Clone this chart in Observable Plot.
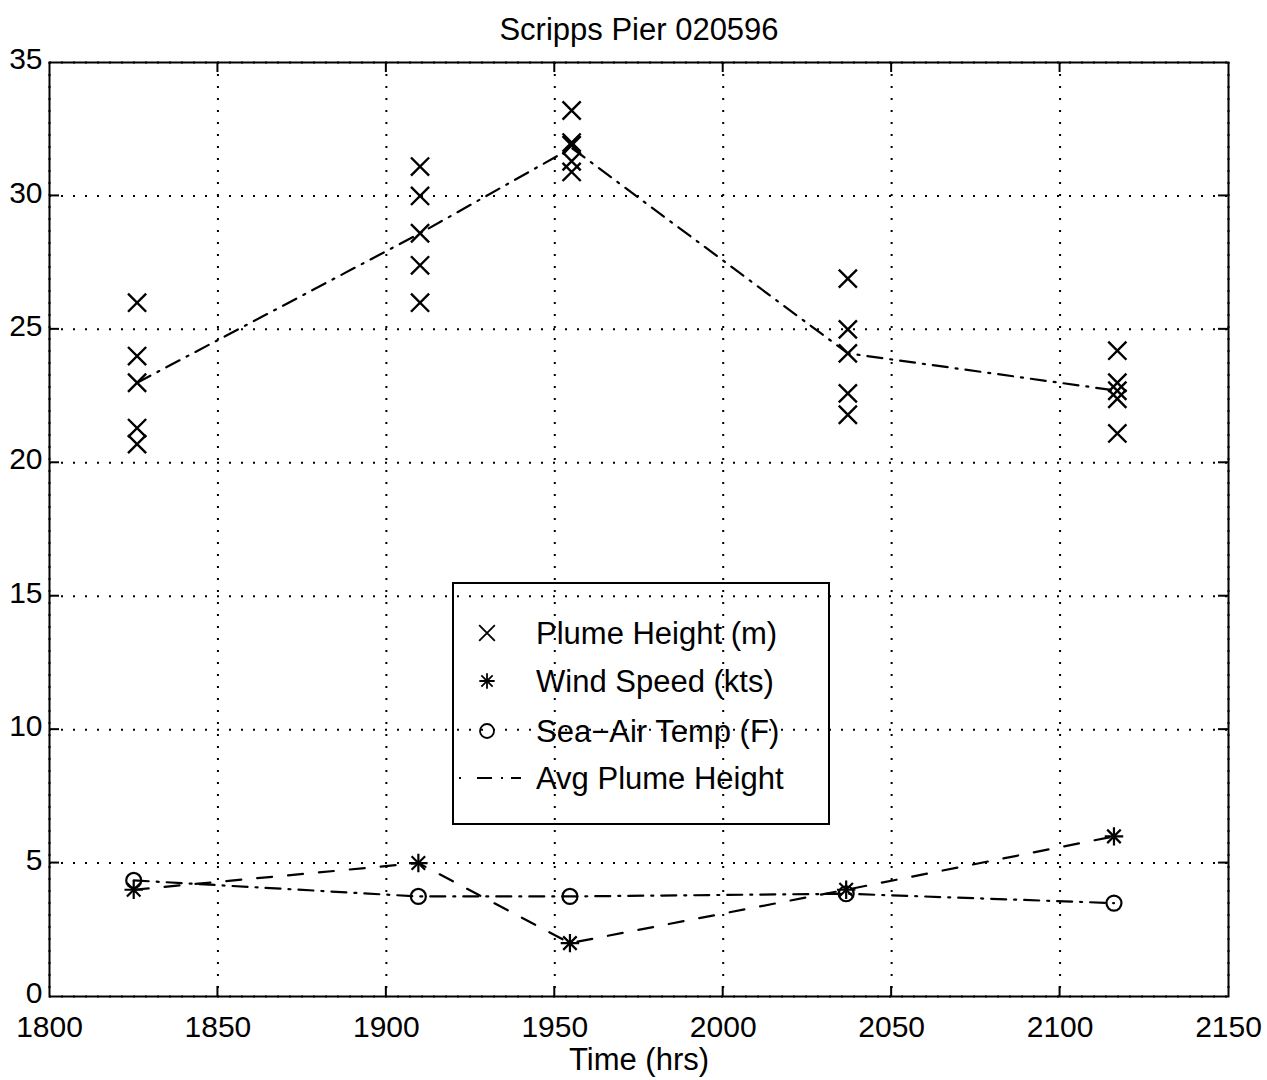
<!DOCTYPE html>
<html><head><meta charset="utf-8">
<script src="https://cdn.jsdelivr.net/npm/d3@7"></script>
<script src="https://cdn.jsdelivr.net/npm/@observablehq/plot@0.6"></script>
<style>body{margin:0;background:#fff} svg{display:block}</style>
</head><body><div id="chart"></div>
<script>
// ---- data ----
const title = "Scripps Pier 020596";
const xLabel = "Time (hrs)";
const plumeTime = [1826, 1910, 1955, 2037, 2117];
const plumeHeights = [
  [26.0, 24.0, 23.0, 21.3, 20.7],
  [31.1, 30.0, 28.6, 27.4, 26.0],
  [33.2, 32.0, 31.9, 31.3, 30.9],
  [26.9, 25.0, 24.1, 22.6, 21.8],
  [24.2, 23.0, 22.7, 22.4, 21.1]
];
const avgPlumeHeight = [23.0, 28.6, 31.8, 24.1, 22.7];
const obsTime = [1825, 1909.5, 1954.5, 2036.5, 2116];
const windSpeed = [4, 5, 2, 4, 6];
const seaAirTemp = [4.35, 3.75, 3.75, 3.85, 3.5];
const xTicks = [1800, 1850, 1900, 1950, 2000, 2050, 2100, 2150];
const yTicks = [0, 5, 10, 15, 20, 25, 30, 35];
const legendLabels = ["Plume Height (m)", "Wind Speed (kts)", "Sea\u2212Air Temp (F)", "Avg Plume Height"];

// ---- tables ----
const plumePts = plumeTime.flatMap((t, i) => plumeHeights[i].map(h => ({t, h})));
const avgPts = plumeTime.map((t, i) => ({t, v: avgPlumeHeight[i]}));
const windPts = obsTime.map((t, i) => ({t, v: windSpeed[i]}));
const tempPts = obsTime.map((t, i) => ({t, v: seaAirTemp[i]}));

const FONT = "'Liberation Sans', Arial, Helvetica, sans-serif";
const DASHDOT = "15,8,2,8";
const DASHED = "15,16";

const chart = Plot.plot({
  width: 1267,
  height: 1080,
  marginLeft: 49,
  marginRight: 39,
  marginTop: 62,
  marginBottom: 84,
  style: {fontFamily: FONT, background: "white", color: "black"},
  x: {domain: [1800, 2150]},
  y: {domain: [0, 35]},
  marks: [
    Plot.gridX(xTicks, {stroke: "black", strokeOpacity: 1, strokeWidth: 2, strokeDasharray: "2,10"}),
    Plot.gridY(yTicks, {stroke: "black", strokeOpacity: 1, strokeWidth: 2, strokeDasharray: "2,10"}),
    Plot.axisX({ticks: xTicks, tickSize: 0, tickPadding: 19, fontSize: 30, label: null, tickFormat: d => String(d)}),
    Plot.axisY({ticks: yTicks, tickSize: 0, tickPadding: 7, fontSize: 30, label: null, dy: -3}),
    Plot.line(avgPts, {x: "t", y: "v", stroke: "black", strokeWidth: 2.2, strokeDasharray: DASHDOT}),
    Plot.line(windPts, {x: "t", y: "v", stroke: "black", strokeWidth: 2.2, strokeDasharray: DASHED}),
    Plot.line(tempPts, {x: "t", y: "v", stroke: "black", strokeWidth: 2.2, strokeDasharray: DASHDOT}),
    Plot.dot(plumePts, {x: "t", y: "h", symbol: "times", r: 8.3, stroke: "black", strokeWidth: 2.4}),
    Plot.dot(windPts, {x: "t", y: "v", symbol: "plus", r: 6, stroke: "black", strokeWidth: 2.2}),
    Plot.dot(windPts, {x: "t", y: "v", symbol: "times", r: 6.2, stroke: "black", strokeWidth: 2.2}),
    Plot.dot(tempPts, {x: "t", y: "v", r: 7.5, stroke: "black", strokeWidth: 2.2, fill: "none"}),
    Plot.frame({stroke: "black", strokeWidth: 2}),
    Plot.text([title], {text: d => d, frameAnchor: "top", lineAnchor: "middle", dy: -32, fontSize: 31, fill: "black"}),
    Plot.text([xLabel], {text: d => d, frameAnchor: "bottom", lineAnchor: "middle", dy: 64, fontSize: 31, fill: "black"})
  ]
});
document.getElementById("chart").appendChild(chart);

// ---- inward ticks on all four sides and legend, positioned via the Plot scales ----
const sx = chart.scale("x"), sy = chart.scale("y");
const X = v => sx.apply(v), Y = v => sy.apply(v);
const svg = d3.select(chart);
const g = svg.append("g").attr("stroke", "black").attr("stroke-width", 2);
const L = 10;
xTicks.slice(1, -1).forEach(t => {
  g.append("line").attr("x1", X(t)).attr("x2", X(t)).attr("y1", Y(0)).attr("y2", Y(0) - L);
  g.append("line").attr("x1", X(t)).attr("x2", X(t)).attr("y1", Y(35)).attr("y2", Y(35) + L);
});
yTicks.slice(1, -1).forEach(v => {
  g.append("line").attr("y1", Y(v)).attr("y2", Y(v)).attr("x1", X(1800)).attr("x2", X(1800) + L);
  g.append("line").attr("y1", Y(v)).attr("y2", Y(v)).attr("x1", X(2150)).attr("x2", X(2150) - L);
});

// legend box (placed relative to the plot frame)
const fx0 = X(1800), fy0 = Y(35);
const lx = fx0 + 404, ly = fy0 + 521, lw = 376, lh = 241;
const lg = svg.append("g");
lg.append("rect").attr("x", lx).attr("y", ly).attr("width", lw).attr("height", lh)
  .attr("fill", "none").attr("stroke", "black").attr("stroke-width", 2);
const rowY = [50, 98, 148, 195].map(d => ly + d);
const mx = lx + 34, tx = lx + 83;
legendLabels.forEach((s, i) => {
  lg.append("text").attr("x", tx).attr("y", rowY[i]).attr("dy", "0.35em")
    .attr("text-anchor", "start")
    .attr("font-family", FONT).attr("font-size", 31).attr("fill", "black").text(s);
});
const sym = (type, r) => d3.symbol(type, Math.PI * r * r)();
lg.append("path").attr("d", sym(d3.symbolTimes, 7.2)).attr("transform", `translate(${mx},${rowY[0]})`)
  .attr("fill", "none").attr("stroke", "black").attr("stroke-width", 1.8);
lg.append("path").attr("d", sym(d3.symbolPlus, 5)).attr("transform", `translate(${mx},${rowY[1]})`)
  .attr("fill", "none").attr("stroke", "black").attr("stroke-width", 1.8);
lg.append("path").attr("d", sym(d3.symbolTimes, 5.2)).attr("transform", `translate(${mx},${rowY[1]})`)
  .attr("fill", "none").attr("stroke", "black").attr("stroke-width", 1.8);
lg.append("circle").attr("cx", mx).attr("cy", rowY[2]).attr("r", 7)
  .attr("fill", "none").attr("stroke", "black").attr("stroke-width", 1.8);
lg.append("line").attr("x1", lx + 6).attr("x2", lx + 68).attr("y1", rowY[3]).attr("y2", rowY[3])
  .attr("stroke", "black").attr("stroke-width", 2).attr("stroke-dasharray", "2,16,15,9,2,8,10");
</script>
</body></html>
